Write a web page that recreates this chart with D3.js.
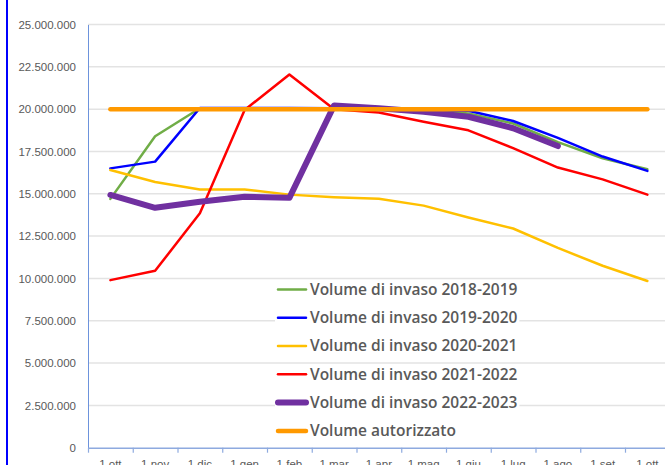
<!DOCTYPE html>
<html>
<head>
<meta charset="utf-8">
<style>
  body { margin: 0; background: #fff; }
  svg { display: block; font-family: "Open Sans", sans-serif; }
  .grid line { stroke: #e3e3e3; stroke-width: 1.5px; }
  .axis text { fill: #595959; font-size: 11.5px; }
  .legend text { fill: #595959; font-size: 15.5px; font-weight: 600; }
</style>
<script src="https://d3js.org/d3.v7.min.js"></script>
</head>
<body>
<div id="chart"></div>
<script>
// categories (month starts, Oct -> Oct)
var months = ["1 ott", "1 nov", "1 dic", "1 gen", "1 feb", "1 mar", "1 apr",
              "1 mag", "1 giu", "1 lug", "1 ago", "1 set", "1 ott"];

// y tick values
var yTicks = [0, 2500000, 5000000, 7500000, 10000000, 12500000, 15000000,
              17500000, 20000000, 22500000, 25000000];

// series values, millions of m3
var vol1819 = [14.7, 18.4, 20.05, 20.05, 20.05, 20.05, 20.0, 19.95, 19.75, 19.15, 18.05, 17.1, 16.45];
var vol1920 = [16.5, 16.9, 20.07, 20.07, 20.07, 20.05, 20.0, 19.95, 19.9, 19.3, 18.3, 17.2, 16.35];
var vol2021 = [16.4, 15.7, 15.25, 15.25, 14.95, 14.8, 14.7, 14.3, 13.6, 12.95, 11.8, 10.75, 9.85];
var vol2122 = [9.9, 10.45, 13.85, 19.95, 22.05, 20.0, 19.8, 19.25, 18.75, 17.7, 16.55, 15.85, 14.95];
var vol2223 = [14.93, 14.17, 14.53, 14.82, 14.76, 20.22, 20.05, 19.85, 19.55, 18.87, 17.82, null, null];
var autorizzato = [20, 20, 20, 20, 20, 20, 20, 20, 20, 20, 20, 20, 20];

var seriesNames = ["Volume di invaso 2018-2019", "Volume di invaso 2019-2020",
                   "Volume di invaso 2020-2021", "Volume di invaso 2021-2022",
                   "Volume di invaso 2022-2023", "Volume autorizzato"];
var seriesColors = ["#70ad47", "#0000ff", "#ffc000", "#ff0000", "#7030a0", "#ff9900"];
var seriesWidths = [2.5, 2.5, 2.5, 2.5, 6, 4.5];
var seriesData = [vol1819, vol1920, vol2021, vol2122, vol2223, autorizzato];

var W = 665, H = 465;
var plotLeft = 88, plotTop = 24.5, plotBottom = 447.7, band = 44.75;

var svg = d3.select("#chart").append("svg")
    .attr("width", W).attr("height", H);

var locale = d3.formatLocale({decimal: ",", thousands: ".", grouping: [3], currency: ["€", ""]});
var fmt = locale.format(",d");

var x = d3.scaleBand()
    .domain(d3.range(months.length))
    .range([plotLeft, plotLeft + band * months.length])
    .paddingInner(0).paddingOuter(0);

var xEdge = d3.scaleLinear()
    .domain([0, months.length])
    .range([plotLeft, plotLeft + band * months.length]);

var y = d3.scaleLinear()
    .domain([0, 25000000])
    .range([plotBottom, plotTop]);

// outer blue frame line on the left
svg.append("line")
    .attr("x1", 7).attr("x2", 7).attr("y1", 0).attr("y2", H)
    .attr("stroke", "#0000ff").attr("stroke-width", 2);

// gridlines
svg.append("g").attr("class", "grid")
  .selectAll("line")
  .data(yTicks.filter(function(d) { return d > 0; }))
  .enter().append("line")
    .attr("x1", plotLeft).attr("x2", W)
    .attr("y1", function(d) { return y(d); })
    .attr("y2", function(d) { return y(d); });

// y axis
var yAxis = svg.append("g").attr("class", "axis")
    .attr("transform", "translate(" + plotLeft + ",0)")
    .call(d3.axisLeft(y).tickValues(yTicks).tickFormat(fmt).tickSize(0).tickPadding(12));
yAxis.select(".domain").attr("stroke", "#6d93dc").attr("stroke-width", 1);

// x axis: ticks on category edges
var xTickAxis = svg.append("g")
    .attr("transform", "translate(0," + plotBottom + ")")
    .call(d3.axisBottom(xEdge).tickValues(d3.range(months.length + 1)).tickFormat("").tickSize(5).tickSizeOuter(0));
xTickAxis.select(".domain").attr("stroke", "#8eaadf").attr("stroke-width", 1.5);
xTickAxis.selectAll(".tick line").attr("stroke", "#8eaadf").attr("stroke-width", 1.2);

var xLab = svg.append("g").attr("class", "axis")
    .attr("transform", "translate(0," + plotBottom + ")")
    .call(d3.axisBottom(x).tickFormat(function(i) { return months[i]; }).tickSize(0).tickPadding(12));
xLab.select(".domain").remove();

// series lines
var line = d3.line()
    .defined(function(d) { return d != null; })
    .x(function(d, i) { return x(i) + x.bandwidth() / 2; })
    .y(function(d) { return y(d * 1e6); });

seriesData.forEach(function(s, k) {
  svg.append("path")
    .datum(s)
    .attr("fill", "none")
    .attr("stroke", seriesColors[k])
    .attr("stroke-width", seriesWidths[k])
    .attr("stroke-linejoin", "round")
    .attr("stroke-linecap", "round")
    .attr("d", line);
});

// legend
var legend = svg.append("g").attr("class", "legend");
var rowY = [289.5, 317.8, 346, 374.3, 402.5, 431];
seriesNames.forEach(function(name, k) {
  var g = legend.append("g").attr("transform", "translate(0," + rowY[k] + ")");
  var bg = g.append("rect").attr("fill", "#fff");
  g.append("line")
    .attr("x1", 278).attr("x2", 306).attr("y1", 0).attr("y2", 0)
    .attr("stroke", seriesColors[k])
    .attr("stroke-width", seriesWidths[k])
    .attr("stroke-linecap", "round");
  var t = g.append("text")
    .attr("x", 310).attr("dy", "0.35em")
    .text(name);
  var w = t.node().getComputedTextLength();
  bg.attr("x", 275).attr("y", -9).attr("width", 310 + w - 275 + 2).attr("height", 18);
});
</script>
</body>
</html>
